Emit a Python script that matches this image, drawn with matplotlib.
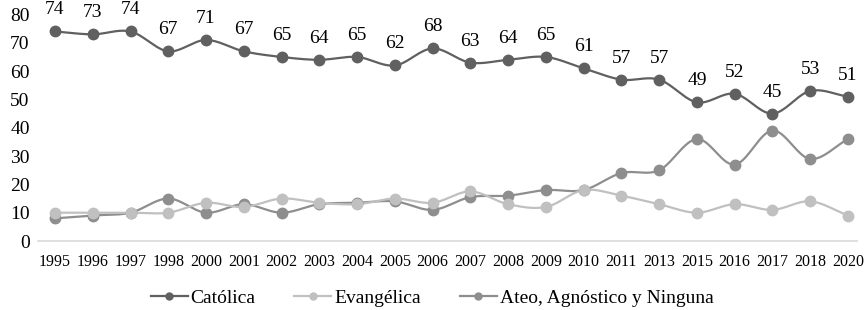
import numpy as np
import matplotlib
matplotlib.use("Agg")
import matplotlib.pyplot as plt
from matplotlib.lines import Line2D

years = ["1995", "1996", "1997", "1998", "2000", "2001", "2002", "2003", "2004", "2005", "2006",
         "2007", "2008", "2009", "2010", "2011", "2013", "2015", "2016", "2017", "2018", "2020"]
catolica = [74, 73, 74, 67, 71, 67, 65, 64, 65, 62, 68, 63, 64, 65, 61, 57, 57, 49, 52, 45, 53, 51]
evangelica = [10, 10, 10, 10, 13.5, 12, 15, 13.5, 13, 15, 13.5, 17.5, 13, 12, 18, 16, 13, 10, 13, 11, 14, 9]
ateo = [8, 9, 10, 15, 10, 13, 10, 13, 13.5, 14, 11, 15.5, 16, 18, 18, 24, 25, 36, 27, 39, 29, 36]

series = [("Católica", catolica, "#606060"),
          ("Evangélica", evangelica, "#c0c0c0"),
          ("Ateo, Agnóstico y Ninguna", ateo, "#8e8e8e")]

plt.rcParams['font.family'] = ['Liberation Serif', 'DejaVu Serif']


def smooth(x, y, n=20):
    x = np.asarray(x, float)
    y = np.asarray(y, float)
    px = np.concatenate([[2 * x[0] - x[1]], x, [2 * x[-1] - x[-2]]])
    py = np.concatenate([[2 * y[0] - y[1]], y, [2 * y[-1] - y[-2]]])
    xs, ys = [], []
    t = np.linspace(0, 1, n, endpoint=False)
    for i in range(1, len(px) - 2):
        f = lambda a: 0.5 * ((2 * a[i]) + (-a[i - 1] + a[i + 1]) * t +
                             (2 * a[i - 1] - 5 * a[i] + 4 * a[i + 1] - a[i + 2]) * t ** 2 +
                             (-a[i - 1] + 3 * a[i] - 3 * a[i + 1] + a[i + 2]) * t ** 3)
        xs.append(f(px))
        ys.append(f(py))
    xs.append([x[-1]])
    ys.append([y[-1]])
    return np.concatenate(xs), np.concatenate(ys)


fig = plt.figure(figsize=(8.64, 3.10), dpi=100)
ax = fig.add_axes([38 / 864, 69 / 310, 819.4 / 864, 226.5 / 310])
x = np.arange(len(years))

for name, vals, col in series[::-1]:
    sx, sy = smooth(x, vals)
    ax.plot(sx, sy, color=col, lw=1.6, zorder=2)
    ax.plot(x, vals, 'o', color=col, ms=7.5, zorder=3)

for xi, v in zip(x, catolica):
    ax.annotate(str(v), (xi, v), xytext=(0, 15.5), textcoords='offset points',
                ha='center', va='center', fontsize=14, color='black', annotation_clip=False)

ax.set_xlim(-0.45, 21.25)
ax.set_ylim(0, 80)
ax.set_yticks(range(0, 81, 10))
ax.set_xticks(x)
ax.set_xticklabels(years, fontsize=11.5)
ax.tick_params(axis='y', labelsize=14, length=0, pad=6)
ax.tick_params(axis='x', length=0, pad=9)
for s in ['top', 'right', 'left']:
    ax.spines[s].set_visible(False)
ax.spines['bottom'].set_color('#d9d9d9')
ax.spines['bottom'].set_linewidth(1.2)

handles = [Line2D([0], [0], color=c, lw=1.6, marker='o', ms=5) for _, _, c in series]
fig.legend(handles, [n for n, _, _ in series], loc='center', ncol=3,
           bbox_to_anchor=(0.5, 12 / 310), frameon=False, fontsize=14,
           handlelength=1.9, columnspacing=2.0, handletextpad=0.15)

fig.savefig("out.png", dpi=100)
